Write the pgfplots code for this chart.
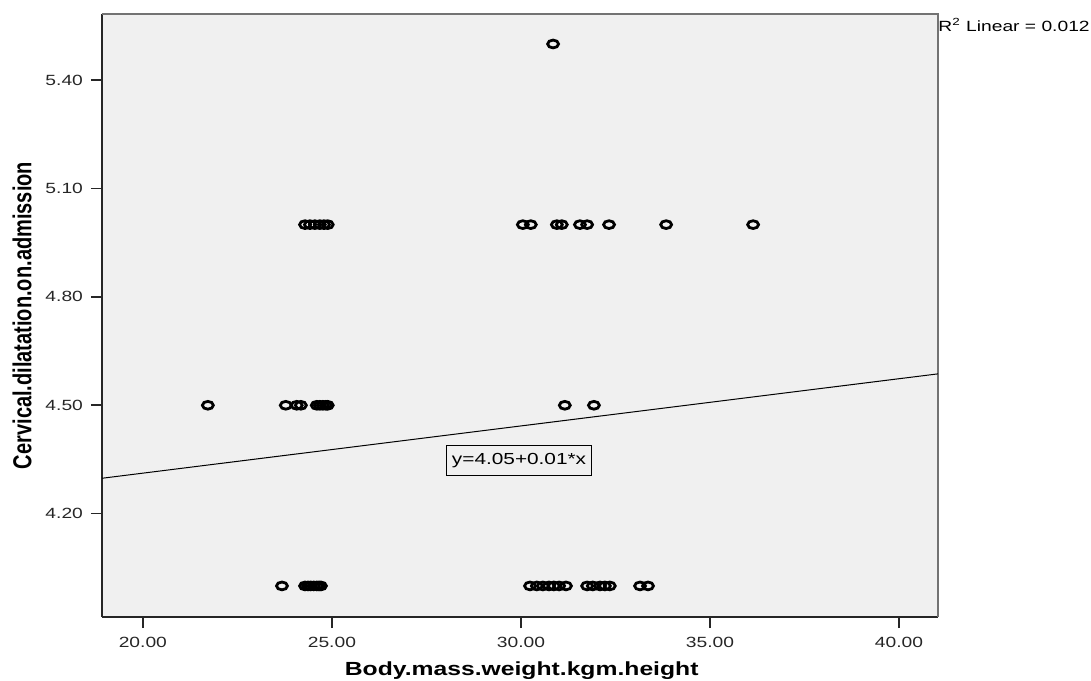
\documentclass[border=0pt]{standalone}
\usepackage{pgfplots}
\pgfplotsset{compat=1.18}
\usepackage{fontspec}
\setmainfont{Liberation Sans}
% the source image is stretched sideways, so the text is too
\newfontfamily\widefont[FakeStretch=1.3]{Liberation Sans}
\newfontfamily\narrowfont[FakeStretch=0.77]{Liberation Sans}
\definecolor{plotbg}{HTML}{F0F0F0}

\begin{document}
\begin{tikzpicture}
\useasboundingbox (-51pt,-31.5pt) rectangle (494.5pt,308.5pt);
\begin{axis}[
  at={(0,0)}, anchor=south west,
  scale only axis, width=418pt, height=301.5pt,
  xmin=18.92, xmax=41.03, ymin=3.914, ymax=5.583,
  xtick={20,25,30,35,40}, ytick={4.2,4.5,4.8,5.1,5.4},
  axis x line*=bottom, axis y line*=left,
  axis line style={-, black!85, line width=0.8pt},
  tick align=outside, major tick length=5.5pt,
  tick style={black!85, line width=0.8pt},
  axis background/.style={fill=plotbg},
  /pgf/number format/assume math mode=true,
  /pgf/number format/.cd, fixed, fixed zerofill, precision=2, /pgfplots/.cd,
  tick label style={font=\widefont\fontsize{7.4}{8}\selectfont, text=black!85},
  xticklabel style={yshift=-1pt},
  yticklabel style={xshift=-0.5pt},
  clip=false,
]
\draw[black!55, line width=1pt] (rel axis cs:0,1) -- (rel axis cs:1,1) -- (rel axis cs:1,0);

% fit line, y = 4.05 + 0.013x
\addplot[black, line width=0.5pt] coordinates {(18.92,4.298) (41.03,4.587)};

\addplot[only marks, mark=o, mark size=1.95pt,
  mark options={xscale=1.4, line width=1.4pt, black}] table {
x y
30.85 5.5
24.29 5.0
24.42 5.0
24.55 5.0
24.68 5.0
24.79 5.0
24.89 5.0
30.05 5.0
30.26 5.0
30.95 5.0
31.08 5.0
31.56 5.0
31.75 5.0
32.33 5.0
33.84 5.0
36.14 5.0
21.72 4.5
23.78 4.5
24.07 4.5
24.18 4.5
24.60 4.5
24.68 4.5
24.76 4.5
24.84 4.5
24.89 4.5
31.16 4.5
31.93 4.5
23.68 4.0
24.29 4.0
24.37 4.0
24.44 4.0
24.52 4.0
24.60 4.0
24.66 4.0
24.71 4.0
30.24 4.0
30.42 4.0
30.58 4.0
30.74 4.0
30.87 4.0
31.01 4.0
31.19 4.0
31.75 4.0
31.90 4.0
32.09 4.0
32.22 4.0
32.35 4.0
33.15 4.0
33.36 4.0
};

\node[draw=black, line width=0.5pt, fill=plotbg, inner xsep=2.5pt, inner ysep=0pt,
  minimum height=15pt, text height=6pt, text depth=1.7pt,
  font=\widefont\fontsize{8}{9}\selectfont]
  at (axis cs:29.95,4.347) {y=4.05+0.01*x};

\node[anchor=base west, inner sep=0pt, yshift=-9pt,
  font=\widefont\fontsize{7.4}{8}\selectfont]
  at (rel axis cs:1,1) {R\textsuperscript{2} Linear = 0.012};

\node[anchor=base, inner sep=0pt, yshift=-29pt,
  font=\widefont\fontsize{9.5}{11}\selectfont\bfseries]
  at (rel axis cs:0.502,0) {Body.mass.weight.kgm.height};

\node[rotate=90, anchor=center, inner sep=0pt,
  font=\narrowfont\fontsize{13}{15}\selectfont\bfseries]
  at (axis description cs:-0.0957,0.5) {Cervical.dilatation.on.admission};
\end{axis}
\end{tikzpicture}
\end{document}
